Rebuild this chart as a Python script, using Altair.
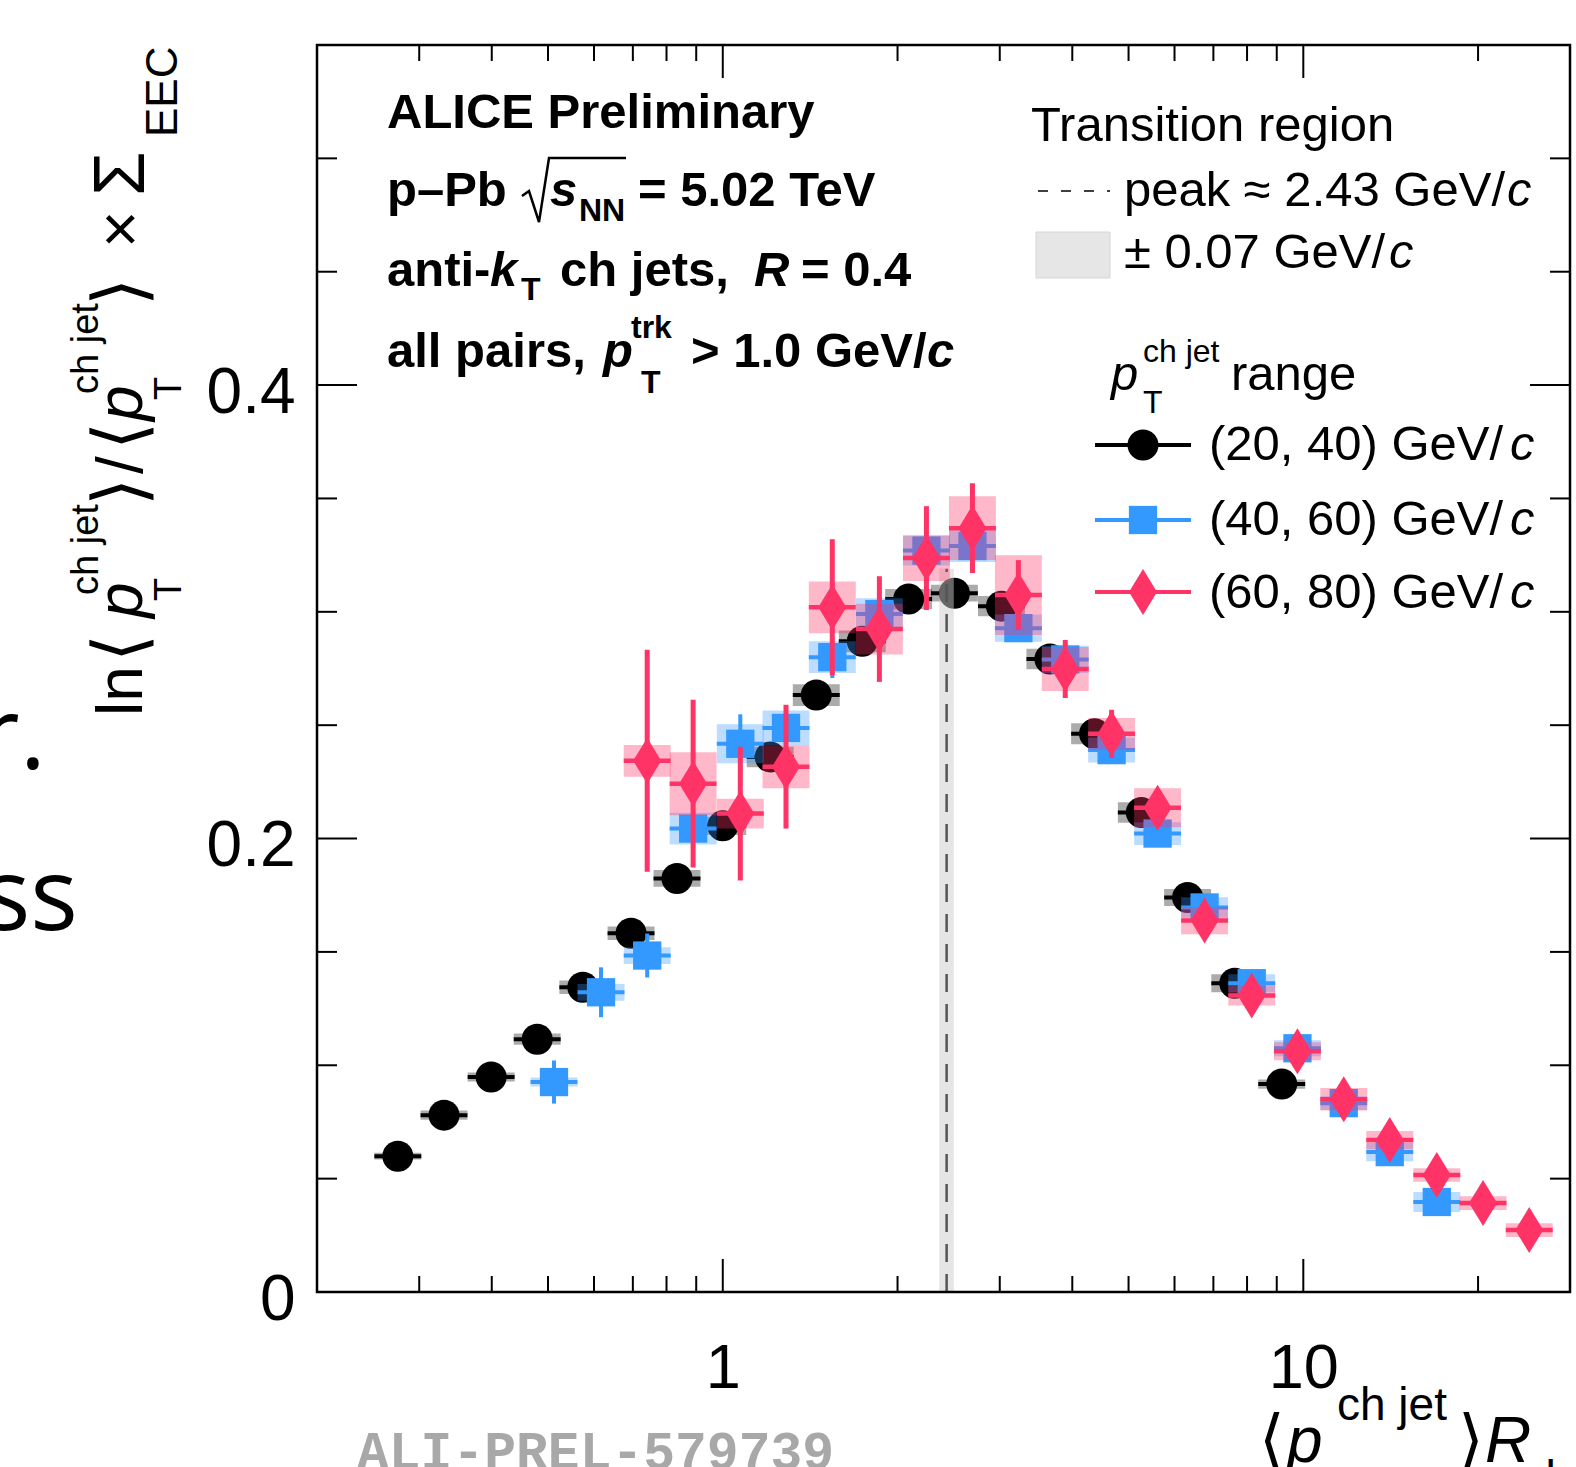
import altair as alt
import pandas as pd

# ---------------- data ----------------
black_x = [0.2756, 0.331, 0.399, 0.479, 0.574, 0.695, 0.834, 1.0, 1.207, 1.449,
           1.739, 2.09, 2.506, 3.02, 3.66, 4.37, 5.26, 6.32, 7.62, 9.18]
black_y = [0.0599, 0.078, 0.0948, 0.1115, 0.1344, 0.1582, 0.1824, 0.2056, 0.236, 0.2633,
           0.287, 0.3056, 0.3082, 0.3025, 0.2792, 0.2462, 0.2115, 0.174, 0.1362, 0.0917]
black_stat = [0.002, 0.002, 0.002, 0.002, 0.002, 0.002, 0.002, 0.002, 0.002, 0.002,
              0.002, 0.002, 0.002, 0.002, 0.002, 0.002, 0.002, 0.002, 0.002, 0.002]
black_syst = [0.0015, 0.002, 0.002, 0.0025, 0.003, 0.003, 0.0037, 0.004, 0.0045, 0.0048,
              0.0048, 0.0045, 0.0037, 0.0045, 0.0045, 0.0046, 0.0045, 0.0037, 0.004, 0.002]

blue_x = [0.512, 0.617, 0.741, 0.889, 1.072, 1.285, 1.544, 1.861, 2.243, 2.692,
          3.23, 3.89, 4.675, 5.61, 6.76, 8.15, 9.77, 11.74, 14.09, 16.98]
blue_y = [0.0926, 0.1322, 0.1484, 0.2044, 0.2418, 0.2488, 0.280, 0.299, 0.327, 0.329,
          0.2928, 0.279, 0.239, 0.2022, 0.1696, 0.1362, 0.1075, 0.0833, 0.0617, 0.0397]
blue_stat = [0.0095, 0.011, 0.0097, 0.006, 0.013, 0.010, 0.0092, 0.007, 0.006, 0.006,
             0.005, 0.004, 0.004, 0.004, 0.003, 0.003, 0.003, 0.003, 0.003, 0.003]
blue_syst = [0.002, 0.0037, 0.0037, 0.007, 0.0086, 0.0077, 0.007, 0.007, 0.0066, 0.007,
             0.006, 0.006, 0.0055, 0.005, 0.0045, 0.004, 0.0035, 0.003, 0.004, 0.0044]

red_x = [0.741, 0.889, 1.072, 1.285, 1.544, 1.861, 2.243, 2.692, 3.23, 3.89,
         4.675, 5.61, 6.76, 8.15, 9.77, 11.74, 14.09, 16.98, 20.4, 24.5]
red_y = [0.2343, 0.2242, 0.211, 0.2317, 0.302, 0.2924, 0.3237, 0.3369, 0.3074, 0.2748,
         0.2462, 0.2136, 0.1638, 0.1308, 0.1062, 0.085, 0.067, 0.0516, 0.0392, 0.0273]
red_stat = [0.049, 0.037, 0.0295, 0.0273, 0.030, 0.0233, 0.0229, 0.0198, 0.0154, 0.0128,
            0.0106, 0.006, 0.004, 0.003, 0.003, 0.003, 0.003, 0.003, 0.003, 0.003]
red_syst = [0.007, 0.0139, 0.0066, 0.0095, 0.0114, 0.0112, 0.0101, 0.0141, 0.0176, 0.0097,
            0.007, 0.0086, 0.006, 0.0044, 0.004, 0.005, 0.004, 0.003, 0.003, 0.003]

series_names = ["(20, 40) GeV/", "(40, 60) GeV/", "(60, 80) GeV/"]
series_colors = ["#000000", "#3399ff", "#ff3366"]

peak_center = [2.43]
peak_halfwidth = [0.07]
peak_top = [0.319]

x_major_ticks = [1, 10]
x_minor_ticks = [0.3, 0.4, 0.5, 0.6, 0.7, 0.8, 0.9, 2, 3, 4, 5, 6, 7, 8, 9, 20]
y_major_ticks = [0, 0.2, 0.4]
y_minor_ticks = [0.05, 0.1, 0.15, 0.25, 0.3, 0.35, 0.45, 0.5]
x_tick_labels = [1, 10]
y_tick_labels = [0, 0.2, 0.4]

# ---------------- layout ----------------
PAD_L, PAD_T = 317, 45
W, H = 1253, 1247
PAD_R = 1576 - PAD_L - W
PAD_B = 1467 - PAD_T - H
BIN_RATIO = 1.0975
SANS = "Liberation Sans"

xscale = alt.Scale(type="log", domain=[0.2, 28.8], nice=False)
yscale = alt.Scale(domain=[0, 0.55], nice=False, zero=False)

xaxis = alt.Axis(values=x_tick_labels, format="~g", title=None, domain=False, ticks=False,
                 tickSize=0, grid=False, labelFont=SANS, labelFontSize=63, labelColor="black",
                 labelPadding=45, labelFlush=False, labelOverlap=False, labelBound=False)
yaxis = alt.Axis(values=y_tick_labels, format="~g", title=None, domain=False, ticks=False,
                 tickSize=0, grid=False, labelFont=SANS, labelFontSize=64, labelColor="black",
                 labelPadding=22, labelOffset=8, labelFlush=False, labelOverlap=False,
                 labelBound=False)

ONE = pd.DataFrame({"a": [0]})


def series_layers(xs, ys, stat, syst, color, shape, size, box_op, hbar_w, vbar_w):
    df = pd.DataFrame({"x": xs, "y": ys})
    df["xlo"] = df["x"] / BIN_RATIO
    df["xhi"] = df["x"] * BIN_RATIO
    df["ylo"] = df["y"] - pd.Series(stat)
    df["yhi"] = df["y"] + pd.Series(stat)
    df["slo"] = df["y"] - pd.Series(syst)
    df["shi"] = df["y"] + pd.Series(syst)
    base = alt.Chart(df)
    box = base.mark_rect(color=color, opacity=box_op).encode(
        x=alt.X("xlo:Q", scale=xscale, axis=xaxis), x2="xhi:Q",
        y=alt.Y("slo:Q", scale=yscale, axis=yaxis), y2="shi:Q")
    hbar = base.mark_rule(color=color, strokeWidth=hbar_w).encode(
        x=alt.X("xlo:Q", scale=xscale, axis=xaxis), x2="xhi:Q",
        y=alt.Y("y:Q", scale=yscale, axis=yaxis))
    vbar = base.mark_rule(color=color, strokeWidth=vbar_w).encode(
        x=alt.X("x:Q", scale=xscale, axis=xaxis),
        y=alt.Y("ylo:Q", scale=yscale, axis=yaxis), y2="yhi:Q")
    pts = base.mark_point(shape=shape, filled=True, size=size, color=color, opacity=1,
                          strokeWidth=0).encode(
        x=alt.X("x:Q", scale=xscale, axis=xaxis),
        y=alt.Y("y:Q", scale=yscale, axis=yaxis))
    return [box, hbar, vbar, pts]


DIAMOND = "M0,-1L0.61,0L0,1L-0.61,0Z"

black_layers = series_layers(black_x, black_y, black_stat, black_syst, series_colors[0],
                             "circle", 961, 0.33, 4, 4)
blue_layers = series_layers(blue_x, blue_y, blue_stat, blue_syst, series_colors[1],
                            "square", 800, 0.33, 4, 4)
red_layers = series_layers(red_x, red_y, red_stat, red_syst, series_colors[2],
                           DIAMOND, 2116, 0.35, 4.5, 5)

# transition region band and dashed peak line
peak_df = pd.DataFrame({"c": peak_center, "hw": peak_halfwidth, "top": peak_top})
peak_df["lo"] = peak_df["c"] - peak_df["hw"]
peak_df["hi"] = peak_df["c"] + peak_df["hw"]
peak_df["zero"] = 0.0
band = alt.Chart(peak_df).mark_rect(color="#cccccc", opacity=0.5).encode(
    x=alt.X("lo:Q", scale=xscale, axis=xaxis), x2="hi:Q",
    y=alt.Y("zero:Q", scale=yscale, axis=yaxis), y2="top:Q")
peak_line = alt.Chart(peak_df).mark_rule(color="#555555", strokeWidth=2.5,
                                          strokeDash=[18, 12]).encode(
    x=alt.X("c:Q", scale=xscale, axis=xaxis),
    y=alt.Y("zero:Q", scale=yscale, axis=yaxis), y2="top:Q")


# ---------------- ticks (inside the frame, ROOT style) ----------------
def xticks(vals, length, top=False):
    df = pd.DataFrame({"v": vals})
    y0, y1 = (0, length) if top else (H, H - length)
    return alt.Chart(df).mark_rule(color="black", strokeWidth=2).encode(
        x=alt.X("v:Q", scale=xscale, axis=xaxis), y=alt.value(y0), y2=alt.value(y1))


def yticks(vals, length, right=False):
    df = pd.DataFrame({"v": vals})
    x0, x1 = (W, W - length) if right else (0, length)
    return alt.Chart(df).mark_rule(color="black", strokeWidth=2).encode(
        y=alt.Y("v:Q", scale=yscale, axis=yaxis), x=alt.value(x0), x2=alt.value(x1))


tick_layers = [
    xticks(x_major_ticks, 33), xticks(x_minor_ticks, 16),
    xticks(x_major_ticks, 33, top=True), xticks(x_minor_ticks, 16, top=True),
    yticks(y_major_ticks, 40), yticks(y_minor_ticks, 20),
    yticks(y_major_ticks, 40, right=True), yticks(y_minor_ticks, 20, right=True),
]

frame = alt.Chart(ONE).mark_rect(fillOpacity=0, stroke="black", strokeWidth=2.5).encode(
    x=alt.value(0), x2=alt.value(W), y=alt.value(0), y2=alt.value(H))


# ---------------- text helpers ----------------
def tl(rows, size, weight="normal", style="normal", font=SANS, angle=0, align="left",
       color="black"):
    df = pd.DataFrame({"t": [r[0] for r in rows],
                       "px": [r[1] - PAD_L for r in rows],
                       "py": [r[2] - PAD_T for r in rows]})
    kw = dict(align=align, baseline="alphabetic", font=font, fontSize=size,
              fontWeight=weight, fontStyle=style, color=color)
    if angle:
        kw["angle"] = angle
    return alt.Chart(df).mark_text(**kw).encode(
        x=alt.X("px:Q", scale=None, axis=None),
        y=alt.Y("py:Q", scale=None, axis=None),
        text="t:N")


text_layers = [
    # left block (bold)
    tl([("ALICE Preliminary", 387, 128), ("p\u2013Pb", 387, 206), ("= 5.02 TeV", 638, 206),
        ("anti-", 387, 286), ("ch jets,", 560, 286), ("= 0.4", 801, 286),
        ("all pairs,", 387, 367), ("> 1.0 GeV/", 691, 367)], 49, weight="bold"),
    tl([("s", 550, 206), ("k", 490, 286), ("R", 754, 286), ("p", 603, 367), ("c", 927, 367)],
       49, weight="bold", style="italic"),
    tl([("NN", 579, 221), ("T", 521, 300), ("trk", 631, 338), ("T", 641, 393)], 32,
       weight="bold"),
    # right block
    tl([("Transition region", 1031, 141), ("peak \u2248 2.43 GeV/", 1124, 206),
        ("\u00b1 0.07 GeV/", 1124, 268), ("range", 1231, 390),
        (series_names[0], 1209, 460), (series_names[1], 1209, 535),
        (series_names[2], 1209, 608)], 49),
    tl([("c", 1507, 206), ("c", 1389, 268), ("p", 1111, 390), ("c", 1510, 460),
        ("c", 1510, 535), ("c", 1510, 608)], 49, style="italic"),
    tl([("ch jet", 1143, 362), ("T", 1143, 413)], 32),
    # y-axis title (rotated)
    tl([("ln", 142, 716), ("/", 142, 474), ("\u00d7", 142, 248)], 64, angle=270),
    tl([("\u27e8", 144, 662), ("\u27e9", 144, 506), ("\u27e8", 144, 450),
        ("\u27e9", 144, 306), ("\u03a3", 144, 196)], 72, angle=270),
    tl([("p", 142, 618), ("p", 142, 421)], 64, style="italic", angle=270),
    tl([("T", 181, 601), ("ch jet", 98, 595), ("T", 181, 400), ("ch jet", 98, 394)], 38,
       angle=270),
    tl([("EEC", 177, 137)], 44, angle=270),
    # x-axis title (cut by the page bottom)
    tl([("\u27e8", 1259, 1462), ("\u27e9", 1458, 1462)], 66),
    tl([("p", 1287, 1462), ("R", 1485, 1462)], 64, style="italic"),
    tl([("ch jet", 1337, 1420)], 46),
    tl([("L", 1545, 1490)], 44),
    # watermark
    tl([("ALI-PREL-579739", 357, 1469)], 53, weight="bold", font="Liberation Mono",
       color="#a8a8a8"),
    # fragments of the slide behind the figure
    tl([("r.", 46, 769), ("ss", 78, 930)], 100, font="Open Sans", align="right"),
]

# radical sign over s_NN
rad_df = pd.DataFrame({"px": [522 - PAD_L, 529 - PAD_L, 539 - PAD_L, 549 - PAD_L, 626 - PAD_L],
                       "py": [196 - PAD_T, 191 - PAD_T, 222 - PAD_T, 158 - PAD_T, 158 - PAD_T],
                       "o": [0, 1, 2, 3, 4]})
radical = alt.Chart(rad_df).mark_line(color="black", strokeWidth=2.5).encode(
    x=alt.X("px:Q", scale=None, axis=None), y=alt.Y("py:Q", scale=None, axis=None),
    order="o:Q")

# ---------------- legend drawings ----------------
legend_layers = []
legend_layers.append(alt.Chart(ONE).mark_rule(color="black", strokeWidth=1.6,
                                              strokeDash=[10, 13]).encode(
    x=alt.value(1038 - PAD_L), x2=alt.value(1110 - PAD_L), y=alt.value(191 - PAD_T)))
legend_layers.append(alt.Chart(ONE).mark_rect(color="#e6e6e6", stroke="#d6d6d6",
                                              strokeWidth=1).encode(
    x=alt.value(1036 - PAD_L), x2=alt.value(1110 - PAD_L),
    y=alt.value(232 - PAD_T), y2=alt.value(278 - PAD_T)))
row_y = [445, 520, 592]
shapes = [("circle", 961), ("square", 800), (DIAMOND, 2116)]
for i in range(3):
    legend_layers.append(alt.Chart(ONE).mark_rule(color=series_colors[i], strokeWidth=4).encode(
        x=alt.value(1095 - PAD_L), x2=alt.value(1191 - PAD_L), y=alt.value(row_y[i] - PAD_T)))
    legend_layers.append(alt.Chart(ONE).mark_point(
        shape=shapes[i][0], size=shapes[i][1], filled=True, opacity=1, strokeWidth=0,
        color=series_colors[i]).encode(
        x=alt.value(1143 - PAD_L), y=alt.value(row_y[i] - PAD_T)))

layers = (black_layers + [band, peak_line] + blue_layers + red_layers + tick_layers
          + [frame, radical] + legend_layers + text_layers)

chart = alt.layer(*layers).properties(
    width=W, height=H,
    autosize=alt.AutoSizeParams(type="none"),
    padding={"left": PAD_L, "top": PAD_T, "right": PAD_R, "bottom": PAD_B},
    background="white",
).configure_view(stroke=None)

chart.save("out.html", embed_options={"renderer": "svg", "actions": False})
